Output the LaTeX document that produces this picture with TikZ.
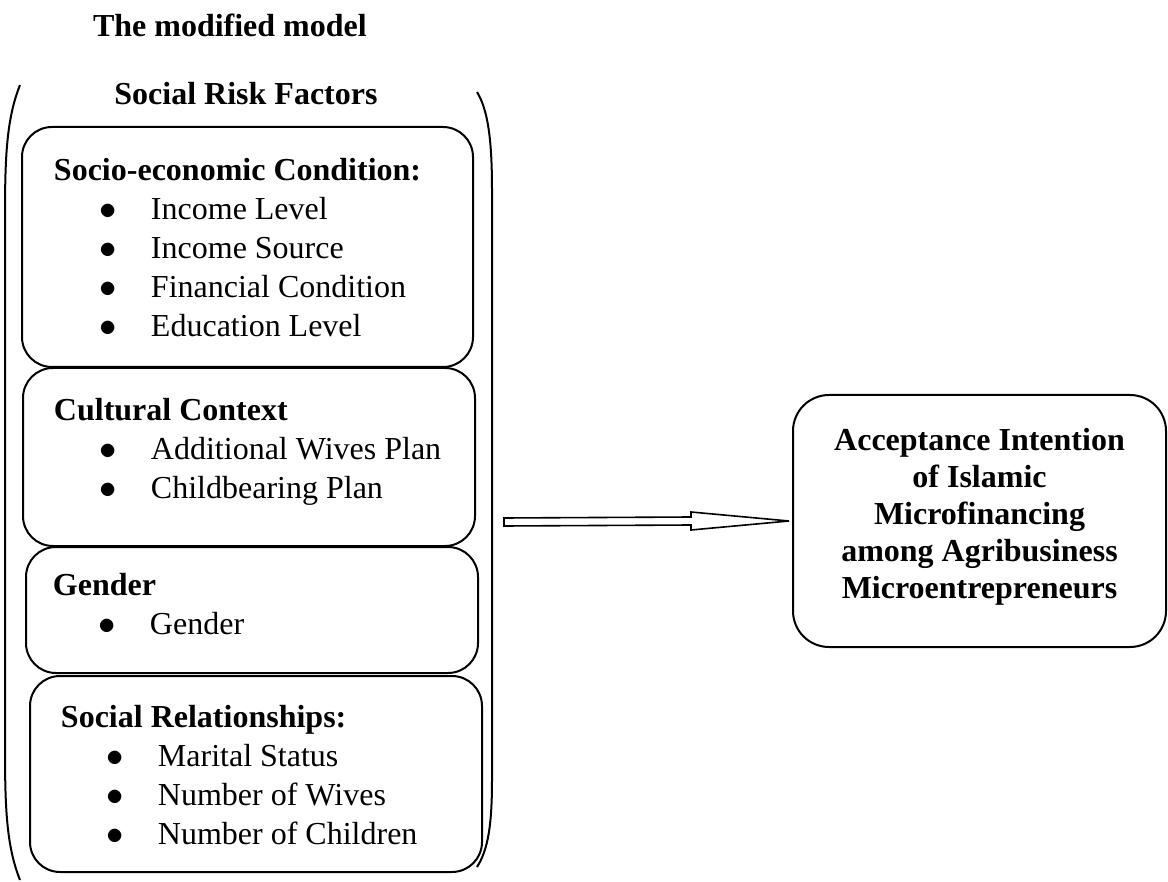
\documentclass[tikz,border=0pt]{standalone}
\usepackage{fontspec}
\setmainfont{Liberation Serif}
\usetikzlibrary{calc}
% bullet line inside a factor box
\newcommand\itm[1]{\hspace*{23pt}\makebox[25.5pt][l]{$\bullet$}#1}

\begin{document}
\begin{tikzpicture}[
  % one unit is one pixel of the original figure, y runs downward
  x=0.5pt,
  y=-0.5pt,
  line width=1pt,
  font=\fontsize{16}{19.5}\selectfont,
  factor/.style={draw, rounded corners=15pt, inner sep=0pt},
  list/.style={align=left, inner sep=0pt, anchor=north west},
  heading/.style={font=\fontsize{16}{19.5}\selectfont\bfseries, inner sep=0pt},
  blockarrow/.style={draw, line width=0.8pt, line join=miter}
]
\useasboundingbox (0,0) rectangle (1168,882);

% Title
\node[heading, anchor=base west] (title) at (92,37) {The modified model};

% 1) Outer group: Social Risk Factors with its two brackets
\node[heading, anchor=base] (risk) at (246,105) {Social Risk Factors};
\draw (20,85) .. controls (6,120) and (5,160) .. (5,220) -- (5,745) .. controls (5,805) and (6,845) .. (20,880);
\draw (477,92) .. controls (488,110) and (492,140) .. (492,190) -- (492,780) .. controls (492,825) and (488,850) .. (477,867);

% 2) Socio-economic Condition box
\node[factor, minimum width=225.5pt, minimum height=120pt] (socio) at (247.5,247) {};
\node[list] (socio-text) at (53,157) {\textbf{Socio-economic Condition:}\\
  \itm{Income Level}\\ \itm{Income Source}\\ \itm{Financial Condition}\\ \itm{Education Level}};

% 3) Cultural Context box
\node[factor, minimum width=226pt, minimum height=89pt] (culture) at (249,457) {};
\node[list] (culture-text) at (53,397) {\textbf{Cultural Context}\\
  \itm{Additional Wives Plan}\\ \itm{Childbearing Plan}};

% 4) Gender box
\node[factor, minimum width=226pt, minimum height=63pt] (gender) at (252,610) {};
\node[list] (gender-text) at (52,572) {\textbf{Gender}\\ \itm{Gender}};

% 5) Social Relationships box
\node[factor, minimum width=226pt, minimum height=98pt] (relation) at (256,774) {};
\node[list] (relation-text) at (60,704) {\textbf{Social Relationships:}\\
  \itm{Marital Status}\\ \itm{Number of Wives}\\ \itm{Number of Children}};

% 6) Outcome box on the right
\node[factor, rounded corners=18pt, minimum width=186.5pt, minimum height=126pt,
      align=center, font=\fontsize{16}{18.5}\selectfont\bfseries] (accept) at (979.5,521)
  {Acceptance Intention\\ of Islamic\\ Microfinancing\\ among Agribusiness\\ Microentrepreneurs\rule[-7.5pt]{0pt}{7.5pt}};

% 7) Hollow block arrow from the factors to the outcome
\coordinate (arrow-start) at (504,522);
\coordinate (arrow-end) at ([xshift=-1.5pt]accept.west);
\draw[blockarrow] ($(arrow-start)+(0,-4)$) -- ($(arrow-end)+(-98,-4)$) -- ($(arrow-end)+(-98,-9)$)
  -- (arrow-end) -- ($(arrow-end)+(-98,9)$) -- ($(arrow-end)+(-98,4)$) -- ($(arrow-start)+(0,4)$) -- cycle;

\end{tikzpicture}
\end{document}
